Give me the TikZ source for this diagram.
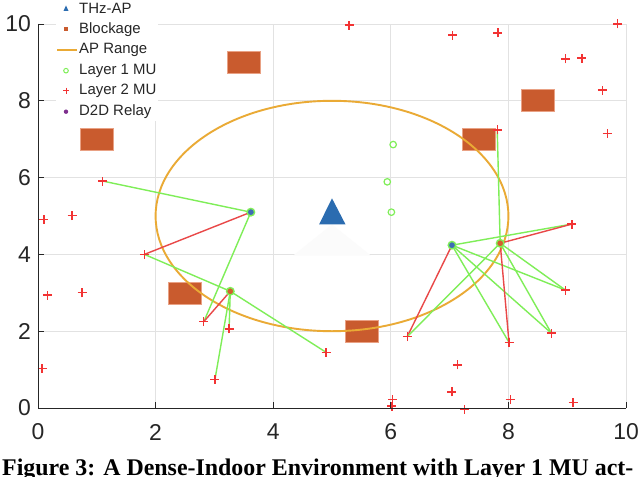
\documentclass[tikz,border=0pt]{standalone}
\usepackage{fontspec}
\setmainfont{Liberation Serif}
\setsansfont{Liberation Sans}
\usetikzlibrary{shapes.misc,shapes.geometric}
\definecolor{gridc}{HTML}{E2E2E2}
\definecolor{axisc}{HTML}{262626}
\definecolor{blockc}{HTML}{C95B2E}
\definecolor{blockedge}{HTML}{E9A184}
\definecolor{rangec}{HTML}{EAAA35}
\definecolor{greenc}{HTML}{7FEE58}
\definecolor{redl}{HTML}{E94848}
\definecolor{plusc}{HTML}{F23333}
\definecolor{apc}{HTML}{2B6CB0}
\definecolor{relayblue}{HTML}{3E6CB5}
\definecolor{relayred}{HTML}{D2602E}
\definecolor{relayc}{HTML}{7E2F8E}
\tikzset{
  blockage/.style={rectangle, fill=blockc, draw=blockedge, line width=0.6bp, minimum width=33bp, minimum height=22bp, inner sep=0},
  aprange/.style={draw=rangec, line width=1.9bp},
  gline/.style={draw=greenc, line width=1.4bp},
  rline/.style={draw=redl, line width=1.4bp},
  plusmark/.style={draw=plusc, line width=1.35bp},
  lone/.style={circle, draw=greenc, line width=1.2bp, minimum size=6.5bp, inner sep=0},
  relay/.style={circle, draw=greenc, line width=1.4bp, minimum size=7.5bp, inner sep=0},
  ticklab/.style={font=\sffamily\fontsize{23}{23}\selectfont, text=axisc, inner sep=0},
  legtext/.style={font=\sffamily\fontsize{15}{15}\selectfont, text=black!85, anchor=west, inner sep=0},
}
\begin{document}
\begin{tikzpicture}[x=1bp,y=-1bp]
\useasboundingbox (0,0) rectangle (640,477);
\clip (0,0) rectangle (640,477);
\fill[white] (0,0) rectangle (640,477);
\begin{scope}[shift={(38bp,-408bp)},x=58.8bp,y=38.4bp]
  % grid
  \foreach \v in {2,4,...,10} {
    \draw[gridc, line width=0.9bp] (\v,0) -- (\v,10);
    \draw[gridc, line width=0.9bp] (0,\v) -- (10,\v);
  }
  % faint shadow under AP
  \fill[black!1.5] (5,4.78) -- (4.34,3.97) -- (5.66,3.97) -- cycle;
  % blockages
  \node[blockage] (b1) at (1.0,7.0) {};
  \node[blockage] (b2) at (3.5,9.0) {};
  \node[blockage] (b3) at (7.5,7.0) {};
  \node[blockage] (b4) at (8.5,8.0) {};
  \node[blockage] (b5) at (2.5,3.0) {};
  \node[blockage] (b6) at (5.5,2.0) {};
  % AP range
  \draw[aprange] (5,5) ellipse [x radius=3, y radius=3];
  % layer 2 MUs
  \foreach \n/\px/\py in {
    m1/1.10/5.91, m2/0.10/4.91, m3/0.58/5.01, m4/1.81/4.00, m5/0.16/2.94,
    m6/0.75/3.00, m7/2.82/2.25, m8/3.25/2.06, m9/4.90/1.45, m10/0.07/1.03,
    m11/3.01/0.75, m12/7.81/7.24, m13/9.68/7.15, m14/9.08/4.79, m15/8.97/3.07,
    m16/8.73/1.95, m17/6.28/1.86, m18/8.01/1.71, m19/7.13/1.12, m20/7.04/0.42,
    m21/6.03/0.22, m22/6.02/0.05, m23/8.03/0.22, m24/7.25/-0.03, m25/9.10/0.14,
    m26/5.29/9.97, m27/7.05/9.71, m28/7.82/9.77, m29/9.86/10.0, m30/8.97/9.09,
    m31/9.25/9.11, m32/9.60/8.28}
    {\coordinate (\n) at (\px,\py);}
  % relays positions
  \coordinate (rA) at (3.62,5.10);
  \coordinate (rB) at (3.27,3.04);
  \coordinate (rC) at (7.04,4.24);
  \coordinate (rD) at (7.86,4.29);
  % connectors
  \draw[gline] (rA) -- (m1);
  \draw[gline] (rA) -- (m7);
  \draw[rline] (rA) -- (m4);
  \draw[gline] (rB) -- (m4);
  \draw[gline] (rB) -- (m9);
  \draw[gline] (rB) -- (m8);
  \draw[gline] (rB) -- (m11);
  \draw[rline] (rB) -- (m7);
  \draw[gline] (rC) -- (m14);
  \draw[gline] (rC) -- (m18);
  \draw[gline] (rC) -- (m16);
  \draw[gline] (rC) -- (m15);
  \draw[rline] (rC) -- (m17);
  \draw[gline] (rD) -- (m12);
  \draw[gline] (rD) -- (m16);
  \draw[gline] (rD) -- (m15);
  \draw[gline] (rD) -- (m17);
  \draw[rline] (rD) -- (m18);
  \draw[rline] (rD) -- (m14);
  % plus markers
  \foreach \n in {1,...,32} {
    \draw[plusmark] (m\n) +(-4.5bp,0) -- +(4.5bp,0) +(0,-4.5bp) -- +(0,4.5bp);
  }
  % layer 1 MUs
  \node[lone] (u1) at (6.04,6.86) {};
  \node[lone] (u2) at (5.94,5.89) {};
  \node[lone] (u3) at (6.01,5.10) {};
  % relays
  \node[relay, fill=relayblue] (RA) at (rA) {};
  \node[relay, fill=relayred] (RB) at (rB) {};
  \node[relay, fill=relayblue] (RC) at (rC) {};
  \node[relay, fill=relayred] (RD) at (rD) {};
  % AP
  \fill[apc] (4.78,4.78) -- (5.23,4.78) -- (5.0,5.46) -- cycle;
  \coordinate (ap) at (5,5);
  % axes
  \draw[axisc, line width=0.9bp] (0,10) -- (0,0) -- (10,0);
  \foreach \v in {0,2,...,10} {
    \draw[axisc, line width=0.9bp] (0,\v) -- ++(6bp,0);
    \draw[axisc, line width=0.9bp] (\v,0) -- ++(0,6bp);
  }
\end{scope}
% tick labels
\foreach \v/\yy in {0/408,2/331.2,4/254.4,6/177.6,8/100.8,10/24} {
  \node[ticklab, anchor=east] (yl\v) at (31,\yy) {\v};
}
\foreach \v/\xx in {0/38,2/155.6,4/273.2,6/390.8,8/508.4,10/626} {
  \node[ticklab] (xl\v) at (\xx,432) {\v};
}
% legend
\fill[white] (56,0) rectangle (158,121);
\fill[apc] (63.5,11) -- (68.5,11) -- (66,5.5) -- cycle;
\node[legtext] (lg1) at (79,8.3) {THz-AP};
\fill[blockc] (64,27.3) rectangle (68,31.3);
\node[legtext] (lg2) at (79,29.3) {Blockage};
\draw[aprange] (57,50) -- (77,50);
\node[legtext] (lg3) at (79,50) {AP Range};
\draw[greenc, line width=1bp] (66,70.7) circle (2.3);
\node[legtext] (lg4) at (79,70.7) {Layer 1 MU};
\draw[plusc, line width=1bp] (63,90.7) -- (69,90.7) (66,87.7) -- (66,93.7);
\node[legtext] (lg5) at (79,90.7) {Layer 2 MU};
\fill[relayc] (66,111.7) circle (2.2);
\node[legtext] (lg6) at (79,111.7) {D2D Relay};
% caption
\node[anchor=base west, inner sep=0] (cap) at (2,475.5) {\resizebox{631bp}{!}{\bfseries Figure 3: A Dense-Indoor Environment with Layer 1 MU act-}};
\end{tikzpicture}
\end{document}
